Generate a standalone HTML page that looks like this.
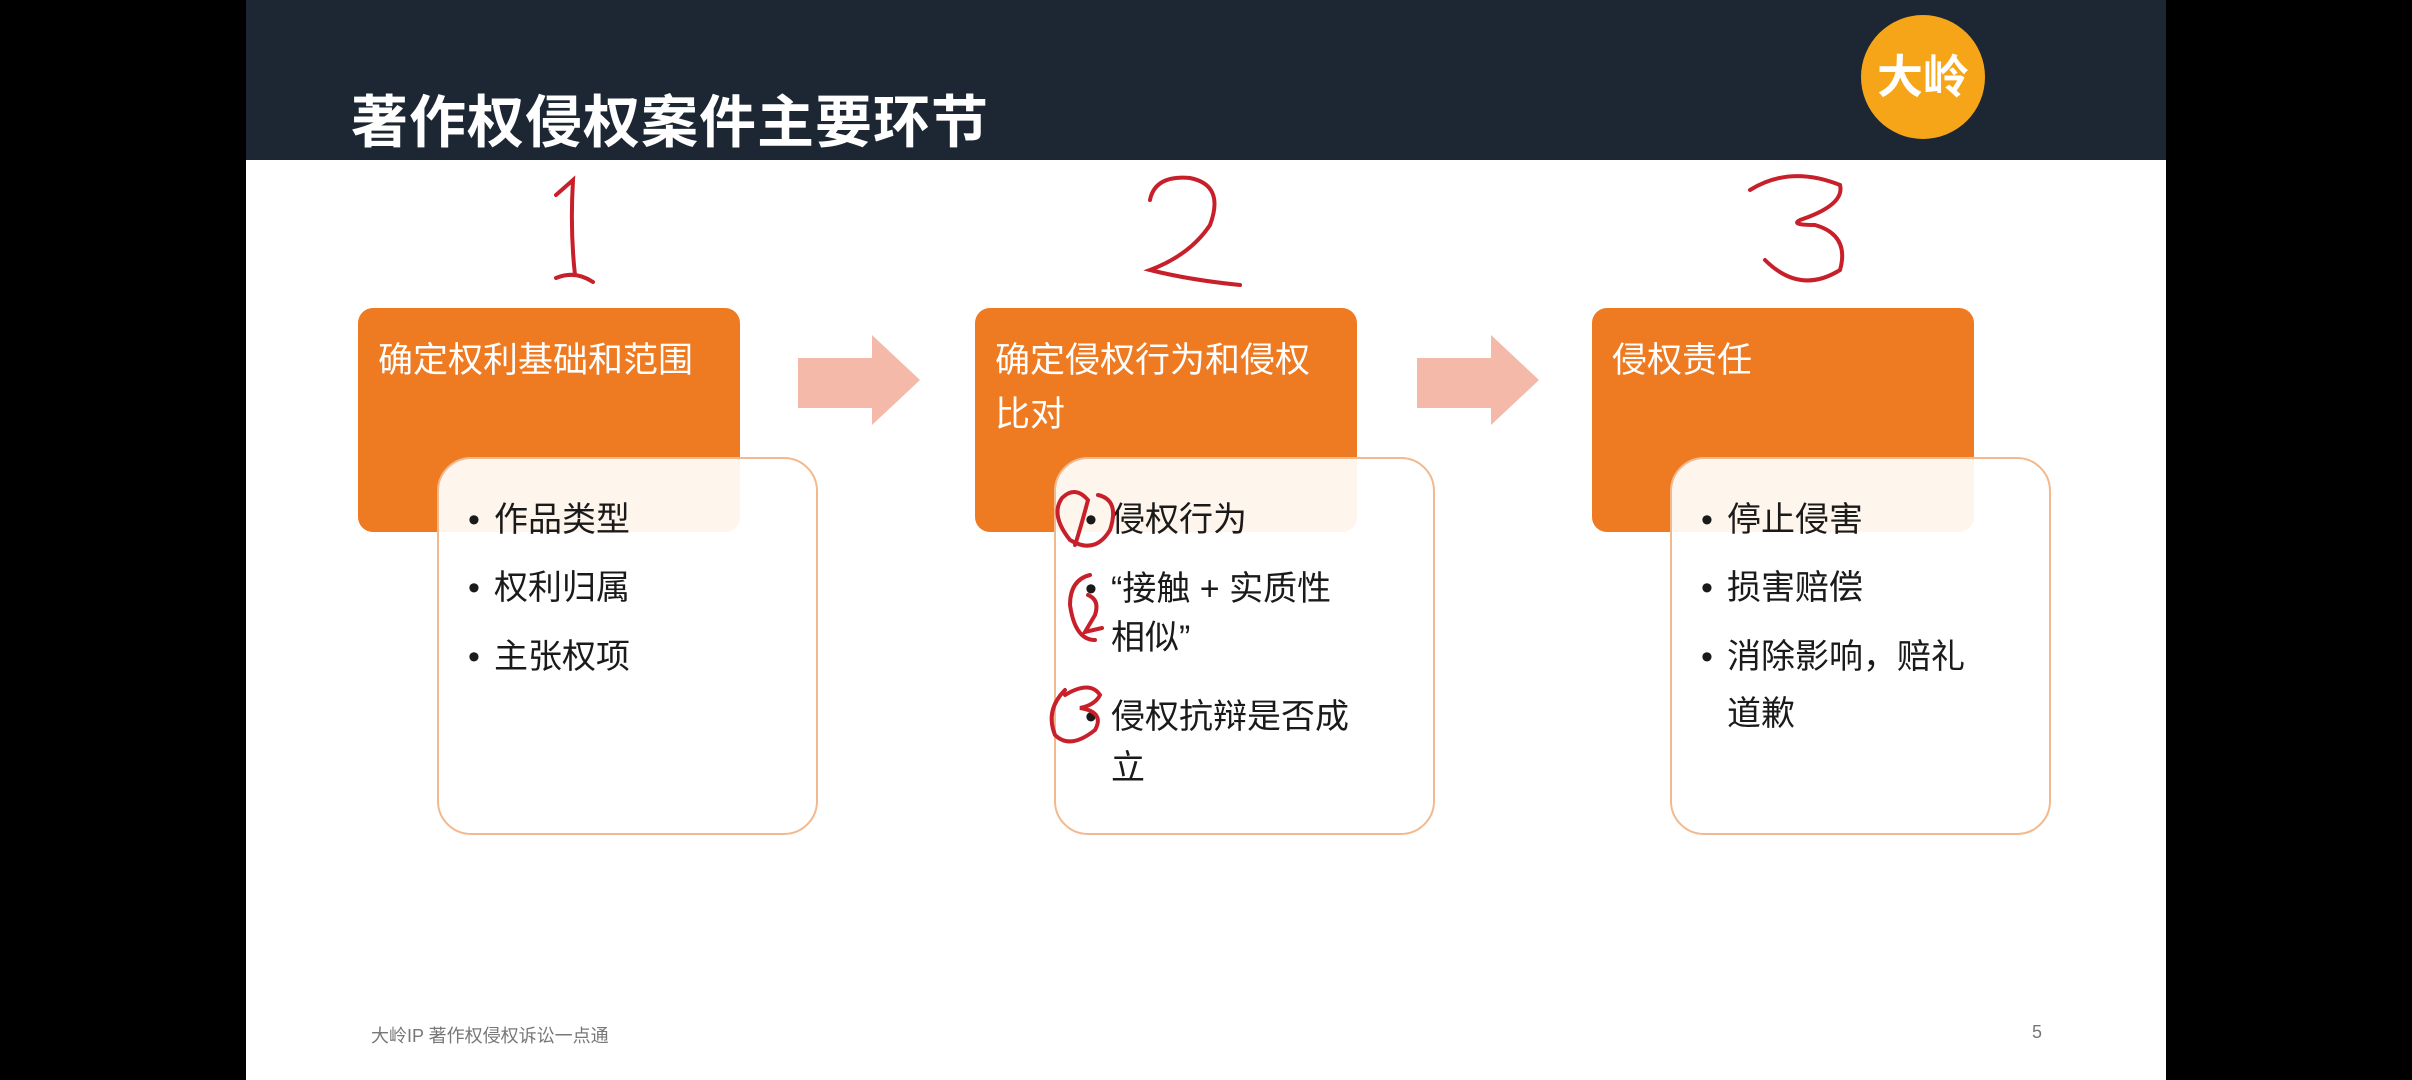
<!DOCTYPE html>
<html><head><meta charset="utf-8"><style>
body{margin:0;width:2412px;height:1080px;background:#000;position:relative;overflow:hidden;font-family:"Liberation Sans","Noto Sans CJK SC",sans-serif}
.slide{position:absolute;left:246px;top:0;width:1920px;height:1080px;background:#fff}
.hdr{position:absolute;left:246px;top:0;width:1920px;height:160px;background:#1c2733}
.title{position:absolute;left:351px;top:90px;font-size:57px;font-weight:bold;color:#fff;letter-spacing:1px;line-height:66px}
.logo{position:absolute;left:1861px;top:15px;width:124px;height:124px;border-radius:50%;background:#f6a519;color:#fff;font-size:46px;font-weight:bold;text-align:center;line-height:124px}
.ob{position:absolute;top:308px;width:382px;height:224px;background:#ee7a22;border-radius:15px;color:#fff;font-size:35px}
.ob span{position:absolute;left:20px;top:26px;line-height:54px}
.wb{position:absolute;top:457px;width:381px;height:378px;background:rgba(255,255,255,0.92);border:2px solid #f2b98e;border-radius:34px;box-sizing:border-box}
.it{position:absolute;font-size:34px;color:#1a1a1a;line-height:52px;white-space:nowrap}
.dot{position:absolute;font-size:34px;color:#1a1a1a;line-height:52px}
.foot{position:absolute;top:1022px;font-size:18px;color:#777}
</style></head><body>
<div class="slide"></div>
<div class="hdr"></div>
<div class="title">著作权侵权案件主要环节</div>
<div class="logo">大岭</div>

<div class="ob" style="left:358px"><span>确定权利基础和范围</span></div>
<div class="ob" style="left:975px"><span>确定侵权行为和侵权<br>比对</span></div>
<div class="ob" style="left:1592px"><span>侵权责任</span></div>

<svg style="position:absolute;left:0;top:0" width="2412" height="1080">
<polygon points="798,358 872,358 872,335 920,380 872,425 872,408 798,408" fill="#f4b9a8"/>
<polygon points="1417,358 1491,358 1491,335 1539,380 1491,425 1491,408 1417,408" fill="#f4b9a8"/>
</svg>

<div class="wb" style="left:437px"></div>
<div class="wb" style="left:1054px"></div>
<div class="wb" style="left:1670px"></div>

<div class="dot" style="left:468px;top:494px">•</div><div class="it" style="left:494px;top:494px">作品类型</div>
<div class="dot" style="left:468px;top:562px">•</div><div class="it" style="left:494px;top:562px">权利归属</div>
<div class="dot" style="left:468px;top:631px">•</div><div class="it" style="left:494px;top:631px">主张权项</div>

<div class="dot" style="left:1085px;top:494px">•</div><div class="it" style="left:1111px;top:494px">侵权行为</div>
<div class="dot" style="left:1085px;top:563px">•</div><div class="it" style="left:1111px;top:563px">“接触 + 实质性</div>
<div class="it" style="left:1111px;top:612px">相似”</div>
<div class="dot" style="left:1085px;top:691px">•</div><div class="it" style="left:1111px;top:691px">侵权抗辩是否成</div>
<div class="it" style="left:1111px;top:742px">立</div>

<div class="dot" style="left:1701px;top:494px">•</div><div class="it" style="left:1727px;top:494px">停止侵害</div>
<div class="dot" style="left:1701px;top:562px">•</div><div class="it" style="left:1727px;top:562px">损害赔偿</div>
<div class="dot" style="left:1701px;top:631px">•</div><div class="it" style="left:1727px;top:631px">消除影响，赔礼</div>
<div class="it" style="left:1727px;top:688px">道歉</div>

<svg style="position:absolute;left:0;top:0" width="2412" height="1080" fill="none" stroke="#c8202a" stroke-width="4" stroke-linecap="round">
<path d="M556,195 L573,180 Q570,230 575,275 M556,278 Q575,270 593,282"/>
<path d="M1150,200 Q1155,175 1190,178 Q1225,185 1210,225 Q1190,255 1150,270 Q1190,280 1240,285"/>
<path d="M1750,190 Q1790,165 1840,185 Q1845,205 1800,220 Q1790,225 1815,225 Q1850,235 1840,270 Q1800,295 1765,260"/>
<path d="M1062,498 Q1075,485 1088,500 Q1080,530 1075,545 M1098,495 Q1120,500 1110,530 Q1095,555 1070,540 Q1050,515 1062,498"/>
<path d="M1090,575 Q1070,580 1070,605 Q1075,640 1095,640 M1088,595 Q1100,600 1095,615 L1085,632 L1102,628"/>
<path d="M1065,695 Q1090,680 1100,695 Q1095,705 1080,708 Q1105,712 1095,730 Q1070,750 1055,735 Q1045,710 1065,690"/>
</svg>

<div class="foot" style="left:371px">大岭IP 著作权侵权诉讼一点通</div>
<div class="foot" style="left:2032px">5</div>
</body></html>
